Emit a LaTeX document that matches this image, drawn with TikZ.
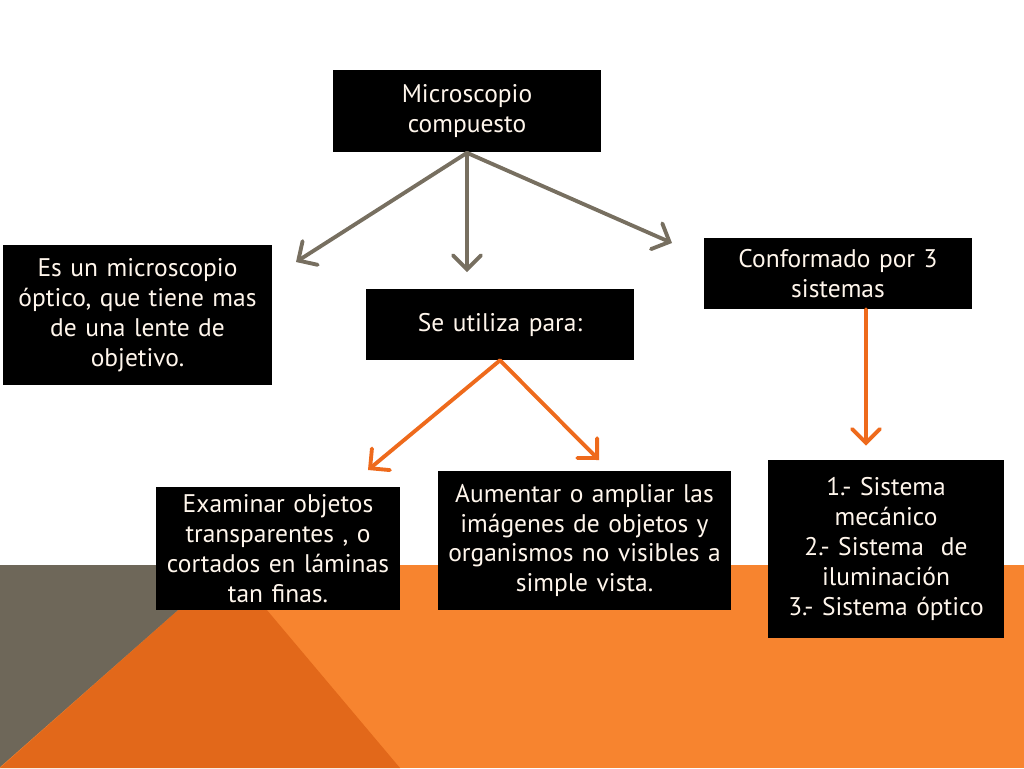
\documentclass[tikz,border=0pt]{standalone}
\usepackage{fontspec}
\setmainfont{PT Sans}
\usetikzlibrary{arrows.meta}
\definecolor{bandorange}{HTML}{F7842F}
\definecolor{darkorange}{HTML}{E2681A}
\definecolor{bandgrey}{HTML}{6E6759}
\definecolor{arrowgrey}{HTML}{776F60}
\definecolor{arroworange}{HTML}{EE6A1C}
\definecolor{textcream}{HTML}{FFF6EC}
\begin{document}
\begin{tikzpicture}
  [x=0.02cm,y=-0.02cm,
   box/.style={fill=black,text=textcream,align=center,inner sep=0pt,
     font=\fontsize{14.5}{17}\selectfont},
   greyarrow/.style={draw=arrowgrey,line width=2.2pt,line cap=round,
     -{Straight Barb[length=8pt,width=16pt,line cap=round]}},
   orangearrow/.style={draw=arroworange,line width=2.2pt,line cap=round,
     -{Straight Barb[length=8pt,width=16pt,line cap=round]}}]
  \useasboundingbox (0,0) rectangle (1024,768);

  % background band
  \fill[bandorange] (0,565) rectangle (1024,768);
  \fill[darkorange] (229,565) -- (0,768) -- (400,768) -- cycle;
  \fill[bandgrey] (0,565) -- (229,565) -- (0,767) -- cycle;

  \node[box,minimum width=5.36cm,minimum height=1.66cm,text width=5cm] (top) at (467,111) {Microscopio\\compuesto};
  \node[box,minimum width=5.38cm,minimum height=2.8cm,text width=5.2cm] (def) at (137.5,315) {Es un microscopio\\óptico, que tiene mas\\de una lente de\\objetivo.};
  \node[box,minimum width=5.36cm,minimum height=1.42cm,text width=5cm] (use) at (500,324.5) {Se utiliza para:};
  \node[box,minimum width=5.36cm,minimum height=1.42cm,text width=5cm] (conf) at (838,273.5) {Conformado por 3\\sistemas};
  \node[box,minimum width=4.88cm,minimum height=2.46cm,text width=4.8cm] (exam) at (278,548.5) {Examinar objetos\\transparentes , o\\cortados en láminas\\tan finas.};
  \node[box,minimum width=5.86cm,minimum height=2.78cm,text width=5.8cm] (aum) at (584.5,540.5) {Aumentar o ampliar las\\imágenes de objetos y\\organismos no visibles a\\simple vista.};
  \node[box,minimum width=4.72cm,minimum height=3.56cm,text width=4.6cm] (sis) at (886,549) {1.- Sistema\\mecánico\\2.- Sistema\ \ de\\iluminación\\3.- Sistema óptico};

  \coordinate (gl) at (296,262);
  \coordinate (gm) at (467,272);
  \coordinate (gr) at (672,243);
  \coordinate (ol) at (368,470);
  \coordinate (or) at (599,460);

  \foreach \to in {gl,gm,gr}
    \draw[greyarrow] (top.south) -- (\to);
  \foreach \to in {ol,or}
    \draw[orangearrow] (use.south) -- (\to);
  \draw[orangearrow] ([xshift=0.56cm]conf.south) -- ([xshift=-0.4cm,yshift=0.28cm]sis.north);

\end{tikzpicture}
\end{document}
